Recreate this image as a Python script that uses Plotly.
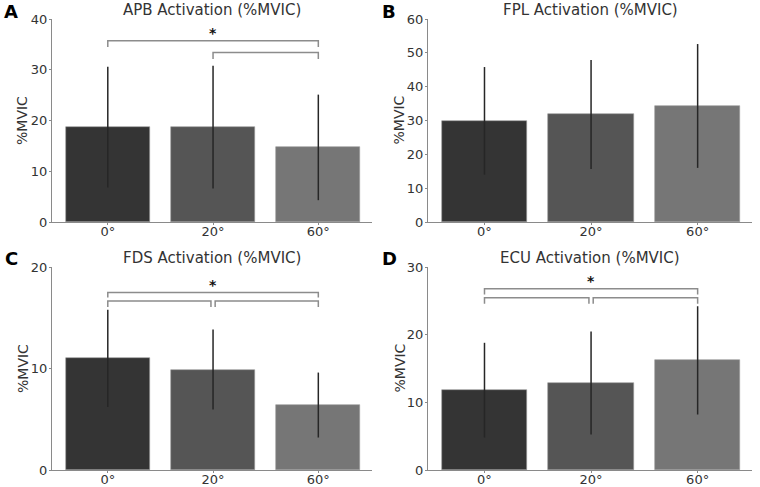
import plotly.graph_objects as go

categories = ["0°", "20°", "60°"]
bar_colors = ["#343434", "#555555", "#767676"]

titles = ["APB Activation (%MVIC)", "FPL Activation (%MVIC)",
          "FDS Activation (%MVIC)", "ECU Activation (%MVIC)"]
letters = ["A", "B", "C", "D"]

apb_mean = [18.7, 18.7, 14.7]
apb_sd = [11.9, 12.1, 10.4]
fpl_mean = [29.9, 31.8, 34.3]
fpl_sd = [15.9, 16.1, 18.3]
fds_mean = [11.0, 9.9, 6.4]
fds_sd = [4.8, 3.95, 3.2]
ecu_mean = [11.8, 12.85, 16.2]
ecu_sd = [7.0, 7.6, 8.0]

y_max = [40, 60, 20, 30]
y_dtick = [10, 10, 10, 10]

# brackets: (from index, to index, bar height, tip height)
apb_brackets = [(0, 2, 35.7, 34.5), (1, 2, 33.4, 32.1)]
fds_brackets = [(0, 2, 17.5, 17.0), (0, 1, 16.66, 16.07), (1, 2, 16.66, 16.07)]
ecu_brackets = [(0, 2, 26.8, 25.95), (0, 1, 25.46, 24.57), (1, 2, 25.46, 24.57)]
star_y = [37.3, None, 18.2, 27.9]

means = [apb_mean, fpl_mean, fds_mean, ecu_mean]
sds = [apb_sd, fpl_sd, fds_sd, ecu_sd]
brackets = [apb_brackets, [], fds_brackets, ecu_brackets]

W, H = 760, 487
xdom = [(52 / W, 372 / W), (428 / W, 752 / W)]
ydom = [((H - 222) / H, (H - 19) / H), ((H - 470) / H, (H - 267) / H)]

fig = go.Figure()
FONT = "DejaVu Sans"
TXT = "#333333"
AX = "#8a8a8a"

for p in range(4):
    r, c = divmod(p, 2)
    suf = "" if p == 0 else str(p + 1)
    xa, ya = "x" + suf, "y" + suf
    xpos = list(range(len(categories)))
    fig.add_trace(go.Bar(
        x=xpos, y=means[p], width=0.8, xaxis=xa, yaxis=ya,
        marker=dict(color=bar_colors, line=dict(color="#9a9a9a", width=0.6)),
        error_y=dict(type="data", array=sds[p], visible=True, thickness=1.5,
                     width=0, color="#262626"),
        showlegend=False, hoverinfo="skip"))
    nb = len(brackets[p])
    for (i0, i1, yb, yt) in brackets[p]:
        gap = 0.02 if nb == 3 and not (i0 == 0 and i1 == 2) else 0.0
        a = i0 + (gap if i0 == 1 else 0)
        b = i1 - (gap if i1 == 1 else 0)
        fig.add_trace(go.Scatter(
            x=[a, a, b, b], y=[yt, yb, yb, yt], mode="lines",
            line=dict(color="#8c8c8c", width=1.5), xaxis=xa, yaxis=ya,
            showlegend=False, hoverinfo="skip"))
    if star_y[p] is not None:
        fig.add_annotation(x=1, y=star_y[p], xref=xa, yref=ya, text="<b>*</b>",
                           xanchor="center", yanchor="middle",
                           showarrow=False, font=dict(family=FONT, size=14, color="#111"))
    xd, yd = xdom[c], ydom[r]
    fig.layout["xaxis" + suf] = dict(
        domain=xd, anchor=ya, range=[-0.53, 2.51], tickmode="array",
        tickvals=xpos, ticktext=categories, showgrid=False, zeroline=False,
        showline=True, linecolor=AX, linewidth=1, ticks="outside", ticklen=2,
        tickcolor=AX, tickfont=dict(family=FONT, size=13, color=TXT), fixedrange=True,
        automargin=False, ticklabelstandoff=-5)
    fig.layout["yaxis" + suf] = dict(
        domain=yd, anchor=xa, range=[0, y_max[p]], dtick=y_dtick[p], showgrid=False,
        zeroline=False, showline=True, linecolor=AX, linewidth=1, ticks="outside",
        ticklen=2, tickcolor=AX, tickfont=dict(family=FONT, size=13, color=TXT),
        automargin=False, ticklabelstandoff=-1)
    # title
    fig.add_annotation(x=(xd[0] + xd[1]) / 2, y=yd[1] + 9.0 / H, xref="paper", yref="paper",
                       text=titles[p], showarrow=False, yanchor="middle", xanchor="center",
                       font=dict(family=FONT, size=15, color=TXT))
    # y label
    fig.add_annotation(x=(22.5 + c * 376.5) / W, y=(yd[0] + yd[1]) / 2, xref="paper",
                       yref="paper", text="%MVIC", textangle=-90, showarrow=False,
                       xanchor="center", yanchor="middle",
                       font=dict(family=FONT, size=14, color=TXT))
    # panel letter
    lx = [11, 389][c] / W
    ly = yd[1] + [7, 8.5][r] / H
    fig.add_annotation(x=lx, y=ly, xref="paper", yref="paper", text="<b>" + letters[p] + "</b>",
                       xanchor="center", yanchor="middle",
                       showarrow=False, font=dict(family=FONT, size=18, color="#000"))

fig.update_layout(width=W, height=H, margin=dict(l=0, r=0, t=0, b=0, autoexpand=False),
                  plot_bgcolor="white", paper_bgcolor="white", bargap=0)
fig.write_html("out.html")
